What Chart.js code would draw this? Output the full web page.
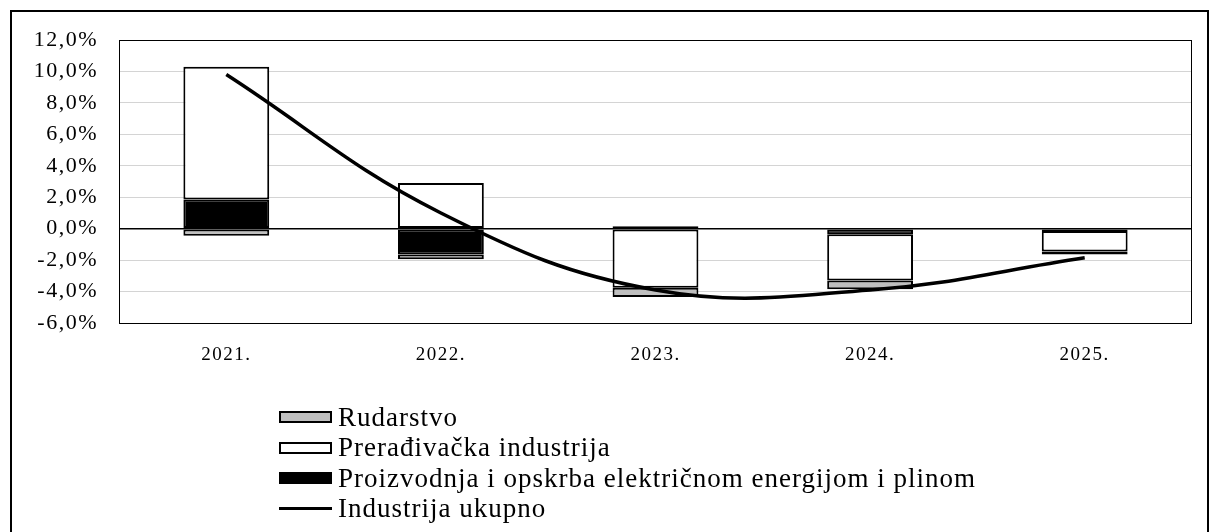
<!DOCTYPE html>
<html>
<head>
<meta charset="utf-8">
<script src="https://cdn.jsdelivr.net/npm/chart.js@4"></script>
<style>
  html, body { margin: 0; padding: 0; background: #fff; }
  #wrap { position: relative; width: 1209px; height: 532px; overflow: hidden; }
  #frame { position: absolute; left: 10px; top: 10px; width: 1195px; height: 600px;
           border-left: 2px solid #000; border-top: 2px solid #000; border-right: 2px solid #000; }
  canvas { position: absolute; left: 0; top: 0; }
  #legend { position: absolute; left: 279px; top: 402px; font-family: "Liberation Serif", "Times New Roman", serif;
            font-size: 27px; letter-spacing: 1px; color: #000; }
  .row { height: 30.5px; display: flex; align-items: center; }
  .box { width: 49px; height: 8px; border: 2px solid #000; margin-right: 6px; }
  .ln { width: 53px; height: 3px; background: #000; margin-right: 6px; }
</style>
</head>
<body>
<div id="wrap">
  <div id="frame"></div>
  <canvas id="chart" width="1209" height="532"></canvas>
  <div id="legend"></div>
</div>
<script>
const years = ['2021.', '2022.', '2023.', '2024.', '2025.'];
const energija = [1.85, -1.65, 0.15, -0.35, -0.15];
const preradjivacka = [8.45, 2.9, -3.75, -2.95, -1.3];
const rudarstvo = [-0.45, -0.3, -0.6, -0.55, -0.2];
const ukupno = [9.8, 1.0, -3.9, -3.9, -1.85];
const yTicks = [-6, -4, -2, 0, 2, 4, 6, 8, 10, 12];

const serif = '"Liberation Serif", "Times New Roman", serif';

// okvir oko podrucja grafa
const plotBox = {
  id: 'plotBox',
  beforeDraw(chart) { chart.ctx.letterSpacing = '1.5px'; },
  afterDatasetsDraw(chart) {
    const a = chart.chartArea, c = chart.ctx;
    c.save();
    c.strokeStyle = '#000';
    c.lineWidth = 1;
    c.strokeRect(a.left + 0.5, a.top + 0.5, a.right - a.left - 1, a.bottom - a.top);
    c.restore();
  }
};

const chart = new Chart(document.getElementById('chart'), {
  data: {
    labels: years,
    datasets: [
      { type: 'bar', label: 'Proizvodnja i opskrba električnom energijom i plinom', data: energija,
        backgroundColor: '#000', borderColor: '#000', borderWidth: 2, borderSkipped: false, stack: 's', order: 1 },
      { type: 'bar', label: 'Prerađivačka industrija', data: preradjivacka,
        backgroundColor: '#fff', borderColor: '#000', borderWidth: 2, borderSkipped: false, stack: 's', order: 1 },
      { type: 'bar', label: 'Rudarstvo', data: rudarstvo,
        backgroundColor: '#bfbfbf', borderColor: '#000', borderWidth: 2, borderSkipped: false, stack: 's', order: 1 },
      { type: 'line', label: 'Industrija ukupno', data: ukupno, borderColor: '#000', borderWidth: 3.5,
        pointRadius: 0, tension: 0.4, fill: false, stack: 'l', order: 0 }
    ]
  },
  options: {
    responsive: false,
    animation: false,
    layout: { padding: { top: 40, right: 17, left: 0, bottom: 0 } },
    datasets: { bar: { categoryPercentage: 1, barPercentage: 0.4 } },
    plugins: { legend: { display: false }, tooltip: { enabled: false } },
    scales: {
      x: {
        stacked: true,
        grid: { display: false },
        border: { display: false },
        ticks: { color: '#000', padding: 13, font: { family: serif, size: 19 } },
        afterFit(s) { s.height = 209; }
      },
      y: {
        stacked: true,
        min: -6, max: 12,
        afterBuildTicks(s) { s.ticks = yTicks.map(v => ({ value: v })); },
        grid: {
          drawTicks: false,
          color: ctx => (ctx.tick && ctx.tick.value === 0) ? '#000' : '#d4d4d4',
          lineWidth: ctx => (ctx.tick && ctx.tick.value === 0) ? 1.5 : 1
        },
        border: { display: true, color: '#000', width: 1 },
        ticks: {
          color: '#000', padding: 21, font: { family: serif, size: 22 },
          callback: v => v.toFixed(1).replace('.', ',') + '%'
        },
        afterFit(s) { s.width = 119; }
      }
    }
  },
  plugins: [plotBox]
});

// legenda redom kao u izvorniku
const legendOrder = ['Rudarstvo', 'Prerađivačka industrija',
  'Proizvodnja i opskrba električnom energijom i plinom', 'Industrija ukupno'];
const leg = document.getElementById('legend');
legendOrder.forEach(name => {
  const ds = chart.data.datasets.find(d => d.label === name);
  const row = document.createElement('div');
  row.className = 'row';
  const mark = document.createElement('span');
  if (ds.type === 'line') {
    mark.className = 'ln';
  } else {
    mark.className = 'box';
    mark.style.background = ds.backgroundColor;
  }
  const txt = document.createElement('span');
  txt.textContent = ds.label;
  row.appendChild(mark);
  row.appendChild(txt);
  leg.appendChild(row);
});
</script>
</body>
</html>
